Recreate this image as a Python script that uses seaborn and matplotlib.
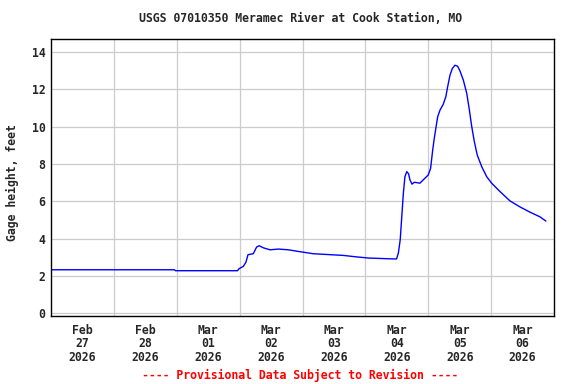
import numpy as np
import pandas as pd
import matplotlib
matplotlib.use("Agg")
import matplotlib.pyplot as plt
import seaborn as sns

# Hours since 2026-02-27 00:00 and gage height (feet)
hours = [0, 47.1, 47.5, 71.2, 71.8, 73.4, 74.4, 75.2, 77.2, 78.5, 79.5, 81.0,
         83.6, 86.8, 90.6, 95.0, 100.1, 111.6, 116.0, 121.1, 128.8, 131.9,
         132.6, 133.3, 133.9, 134.5, 135.1, 135.8, 136.5, 137.0, 137.8, 138.7,
         140.8, 142.1, 144.0, 144.9, 145.7, 146.3, 147.0, 147.6, 148.5, 149.7,
         150.7, 151.4, 152.3, 153.2, 154.2, 155.2, 156.1, 157.4, 158.7, 159.7,
         160.6, 161.6, 162.7, 164.4, 166.3, 168.2, 171.4, 175.2, 179.0, 182.8,
         186.6, 188.9]
gage = [2.33, 2.33, 2.28, 2.28, 2.39, 2.51, 2.73, 3.14, 3.19, 3.55, 3.62, 3.51,
        3.40, 3.44, 3.40, 3.30, 3.19, 3.10, 3.03, 2.96, 2.92, 2.91,
        3.23, 3.94, 5.19, 6.43, 7.32, 7.59, 7.47, 7.15, 6.92, 7.02,
        6.97, 7.15, 7.41, 7.77, 8.75, 9.37, 10.0, 10.53, 10.89, 11.19,
        11.6, 12.13, 12.76, 13.12, 13.29, 13.24, 12.99, 12.49, 11.78, 10.89,
        10.0, 9.19, 8.48, 7.86, 7.32, 6.97, 6.52, 6.02, 5.70, 5.42,
        5.17, 4.94]
day_labels = ["Feb\n27\n2026", "Feb\n28\n2026", "Mar\n01\n2026", "Mar\n02\n2026",
              "Mar\n03\n2026", "Mar\n04\n2026", "Mar\n05\n2026", "Mar\n06\n2026"]
y_ticks = [0, 2, 4, 6, 8, 10, 12, 14]

title = "USGS 07010350 Meramec River at Cook Station, MO"
ylabel = "Gage height, feet"
footer = "---- Provisional Data Subject to Revision ----"

sns.set_theme(style="white")
plt.rcParams['font.family'] = ['DejaVu Sans Mono']
plt.rcParams['font.weight'] = 'bold'

FS = 8.3
start = pd.Timestamp("2026-02-27 00:00")
df = pd.DataFrame({"time": [start + pd.Timedelta(hours=h) for h in hours],
                   "gage": gage})

fig = plt.figure(figsize=(5.76, 3.84), dpi=100)
ax = fig.add_axes([51/576, 1 - 315.5/384, (554-51)/576, (315.5-39.3)/384])

sns.lineplot(data=df, x="time", y="gage", ax=ax, color="#0000ff", linewidth=1.0)

days = [start + pd.Timedelta(days=i) for i in range(9)]
ax.set_xlim(days[0], days[-1])
ax.set_ylim(-0.12, 14.68)

ax.set_xticks(days[1:-1])
ax.set_xticklabels([])
ax.set_xticks([d + pd.Timedelta(hours=12) for d in days[:-1]], minor=True)
ax.set_xticklabels(day_labels, minor=True, fontsize=FS, fontweight='bold',
                   family='DejaVu Sans Mono', linespacing=1.05)
ax.set_yticks(y_ticks)
ax.set_yticklabels([str(v) for v in y_ticks], fontsize=FS, fontweight='bold',
                   family='DejaVu Sans Mono')
ax.tick_params(axis='both', which='both', length=0)
ax.tick_params(axis='x', which='minor', pad=6)
ax.tick_params(axis='y', pad=4)

ax.grid(True, which='major', color='#cccccc', linewidth=0.9)
ax.set_axisbelow(True)
for s in ax.spines.values():
    s.set_color('black')
    s.set_linewidth(1.0)

ax.set_xlabel("")
ax.set_ylabel("")
fig.text(12/576, 1 - 183/384, ylabel, rotation=90, ha='center', va='center',
         fontsize=FS, fontweight='bold', family='DejaVu Sans Mono')
fig.text(301/576, 1 - 19/384, title, ha='center', va='center',
         fontsize=FS, fontweight='bold', family='DejaVu Sans Mono')
fig.text(300/576, 1 - 375/384, footer, ha='center', va='center',
         fontsize=FS, fontweight='bold', family='DejaVu Sans Mono', color='red')

fig.savefig("out.png", dpi=100)
